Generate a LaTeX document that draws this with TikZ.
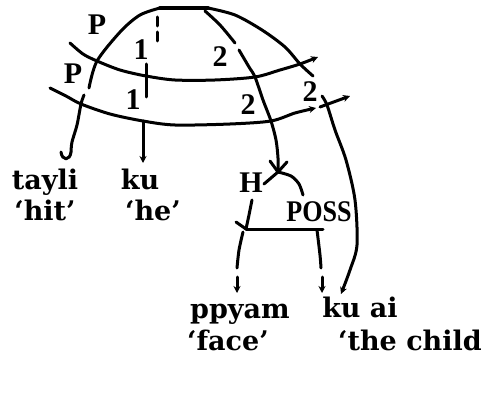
\documentclass[tikz,border=0pt]{standalone}
\usepackage{fontspec}
\setmainfont{DejaVu Serif}
\newfontfamily\labfont{Liberation Serif}
\usetikzlibrary{arrows.meta}
\begin{document}
\begin{tikzpicture}[x=1pt,y=-1pt, line width=3pt, line cap=round, line join=round,
  word/.style={font=\bfseries\fontsize{27}{29}\selectfont, anchor=base, inner sep=0pt},
  lab/.style={font=\labfont\bfseries\fontsize{30}{32}\selectfont, inner sep=0pt},
  narrowlab/.style={lab, xscale=0.87, transform shape},
  tip/.style={-{Stealth[length=7pt,width=7pt]}}]
\useasboundingbox (0,0) rectangle (487,401);
% key coordinates
\coordinate (t1) at (160,8);
\coordinate (t2) at (208,8);
\coordinate (pU) at (97,61);
\coordinate (pL) at (81,104);
\coordinate (oU) at (146,76);
\coordinate (oL) at (143,121);
\coordinate (iU) at (255,77);
\coordinate (iL) at (271,121);
\coordinate (rU) at (300,64);
\coordinate (rL) at (327,105);
\coordinate (X) at (278,172);
\coordinate (u0) at (70,43);
\coordinate (uE) at (318,57);
\coordinate (l0) at (50,88);
\coordinate (lE) at (316,108);
\coordinate (hk1) at (71,152);
\coordinate (hk2) at (61,152);
\coordinate (kuA) at (143,163);
\coordinate (hA) at (264,184);
\coordinate (hB) at (246,229);
\coordinate (pB) at (323,229);
\coordinate (ppA) at (237,293);
\coordinate (kaA) at (322,293);
\coordinate (kaB) at (341,294);
% top bar
\draw[line width=4pt] (t1) -- (t2);
% P arc
\draw plot[smooth] coordinates {(t1) (140,15) (121,31) (pU) (89,88)};
\draw plot[smooth] coordinates {(84,95) (pL) (77,125) (72,142) (hk1)};
\draw (hk1) .. controls (70,161) and (62,161) .. (hk2);
% strata lines
\draw[tip] plot[smooth] coordinates {(u0) (83,54) (pU) (120,70) (oU) (175,80) (215,80) (iU) (280,70) (rU) (uE)};
\draw[tip] plot[smooth] coordinates {(l0) (66,96) (pL) (110,114) (oL) (175,125) (230,124) (iL) (295,113) (lE)};
\draw[tip] (320,107) -- (350,96);
% 1 arc
\draw[dash pattern=on 9pt off 6pt] (157,17) -- (157,43);
\draw (146,64) -- (oU) -- (146,97);
\draw[tip] (oL) -- (kuA);
% inner 2 arc
\draw plot[smooth] coordinates {(205,11) (220,25) (235,43)};
\draw plot[smooth] coordinates {(239,50) (249,67) (iU) (263,100) (iL) (276,140) (278,158) (X)};
\draw (270,161) -- (X) -- (287,162);
\draw (X) -- (hA);
\draw plot[smooth] coordinates {(X) (291,176) (299,184) (303,195)};
% H / POSS
\draw plot[smooth] coordinates {(252,200) (249,215) (hB)};
\draw (236,222) -- (hB);
\draw (hB) -- (pB);
\draw plot[smooth] coordinates {(243,232) (239,250) (237,268)};
\draw[tip] (237,277) -- (ppA);
\draw plot[smooth] coordinates {(317,230) (320,255) (321,268)};
\draw[tip] (322,277) -- (kaA);
% right outer arc
\draw plot[smooth] coordinates {(t2) (235,15) (262,30) (285,47) (rU) (313,76)};
\draw[tip] plot[smooth] coordinates {(322,96) (rL) (335,130) (346,160) (355,200) (357,245) (350,270) (kaB)};
% labels
\node[lab] (lP1) at (97,25) {P};
\node[lab] (lP2) at (73,74) {P};
\node[lab] (l11) at (141,50) {1};
\node[lab] (l12) at (133,100) {1};
\node[lab] (l21) at (220,57) {2};
\node[lab] (l22) at (248,105) {2};
\node[lab] (l23) at (310,92) {2};
\node[lab] (lH) at (251,183) {H};
\node[narrowlab] (lPOSS) at (319,212) {POSS};
% words
\node[word] (tayli) at (45,189) {tayli};
\node[word] (hit) at (45,220) {`hit'};
\node[word] (ku) at (140,189) {ku};
\node[word] (he) at (153,220) {`he'};
\node[word] (ppyam) at (240,318) {ppyam};
\node[word] (kuai) at (360,317) {ku ai};
\node[word] (face) at (228,350) {`face'};
\node[word] (child) at (410,350) {`the child};
\end{tikzpicture}
\end{document}
